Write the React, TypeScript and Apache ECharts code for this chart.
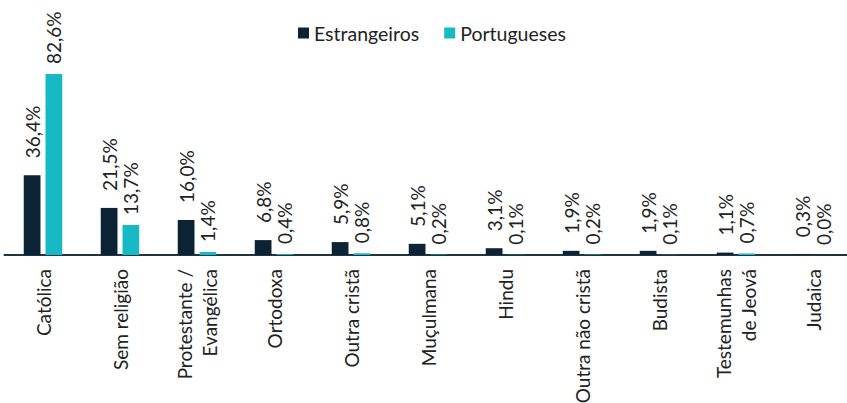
import React, { useEffect, useRef } from "react";
import * as echarts from "echarts";

const categories = [
  "Católica",
  "Sem religião",
  "Protestante /\nEvangélica",
  "Ortodoxa",
  "Outra cristã",
  "Muçulmana",
  "Hindu",
  "Outra não cristã",
  "Budista",
  "Testemunhas\nde Jeová",
  "Judaica",
];
const estrangeiros = [36.4, 21.5, 16.0, 6.8, 5.9, 5.1, 3.1, 1.9, 1.9, 1.1, 0.3];
const portugueses = [82.6, 13.7, 1.4, 0.4, 0.8, 0.2, 0.1, 0.2, 0.1, 0.7, 0.0];

const DARK = "#0C2235";
const CYAN = "#17B9C5";
const FONT = "Lato";
const TEXT = "#222222";

const fmt = (p: any) => Number(p.value).toFixed(1).replace(".", ",") + "%";

export default function App() {
  const ref = useRef<HTMLDivElement>(null);
  useEffect(() => {
    if (!ref.current) return;
    document.body.style.margin = "0";
    document.body.style.overflow = "hidden";
    const chart = echarts.init(ref.current, undefined, { renderer: "svg" });
    const labelBase = {
      show: true,
      position: "top",
      rotate: 90,
      align: "left",
      verticalAlign: "middle",
      fontFamily: FONT,
      fontSize: 19,
      color: TEXT,
      formatter: fmt,
    };
    chart.setOption({
      animation: false,
      backgroundColor: "#ffffff",
      legend: {
        left: 293,
        top: 18,
        icon: "rect",
        itemWidth: 11,
        itemHeight: 11,
        itemGap: 25,
        textStyle: { fontFamily: FONT, fontSize: 19.5, color: TEXT },
        data: ["Estrangeiros", "Portugueses"],
      },
      grid: {
        left: 4.5,
        width: 847,
        top: 36,
        height: 219,
        containLabel: false,
        outerBoundsMode: "none",
      },
      xAxis: {
        type: "category",
        data: categories,
        axisLine: { show: true, lineStyle: { color: "#1F3447", width: 2 } },
        axisTick: { show: false },
        axisLabel: {
          rotate: 90,
          margin: 14,
          interval: 0,
          fontFamily: FONT,
          fontSize: 19,
          color: TEXT,
          lineHeight: 25,
        },
      },
      yAxis: {
        type: "value",
        min: 0,
        max: 100,
        show: false,
        splitLine: { show: false },
      },
      series: [
        {
          name: "Estrangeiros",
          type: "bar",
          data: estrangeiros,
          barGap: "30%",
          barCategoryGap: "50%",
          itemStyle: { color: DARK },
          label: { ...labelBase, distance: 17 },
        },
        {
          name: "Portugueses",
          type: "bar",
          data: portugueses,
          barGap: "30%",
          barCategoryGap: "50%",
          itemStyle: { color: CYAN },
          label: { ...labelBase, distance: 10 },
        },
      ],
    });
    return () => chart.dispose();
  }, []);
  return <div ref={ref} style={{ width: 847, height: 403 }} />;
}
